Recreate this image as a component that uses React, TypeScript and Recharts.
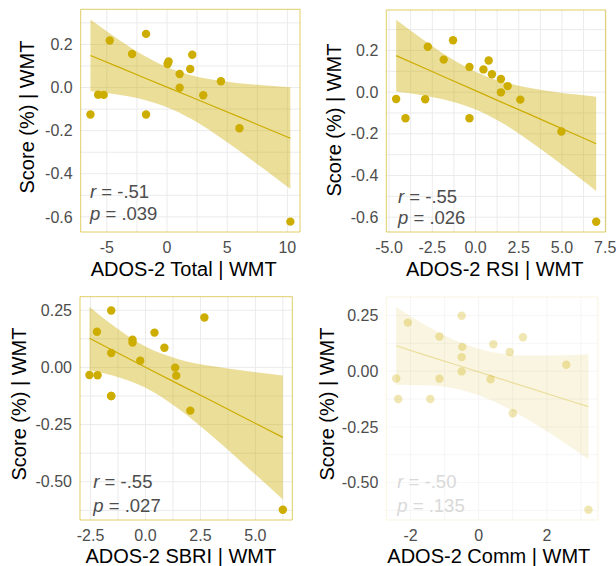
import React from "react";
import {
  ComposedChart,
  Area,
  Line,
  Scatter,
  XAxis,
  YAxis,
  CartesianGrid,
  ReferenceArea,
} from "recharts";

const GOLD = "#CDAD00";
const FONT = '"Liberation Sans", Arial, sans-serif';

// residualised score (| WMT), one value per participant
const score = [
  0.249, 0.218, 0.156, 0.152, 0.121, 0.109, 0.086, 0.063, 0.029, -0.001,
  -0.033, -0.034, -0.036, -0.125, -0.125, -0.189, -0.622,
];

// residualised ADOS-2 scores, same participant order as `score`
const totalX = [
  -1.74, -4.76, -2.9, 2.1, 0.13, 0.05, 1.93, 1.05, 4.48, 1.05, -5.72, -5.26,
  3.01, -6.36, -1.74, 6.02, 10.25,
];
const rsiX = [
  -1.3, -2.76, -1.84, 0.76, -0.35, 0.46, 0.95, 1.47, 1.86, 1.47, -4.59, -2.91,
  2.59, -4.05, -0.35, 4.97, 6.98,
];
const sbriX = [
  -1.56, 2.68, -2.21, 0.41, -0.59, -0.59, 0.86, -1.56, -0.24, 1.35, -2.55,
  -2.18, 1.4, -1.56, -1.56, 2.04, 6.25,
];
const commX = [
  -0.5, -2.08, -1.15, 1.3, 0.43, -0.48, 0.91, -0.5, 2.57, -0.5, -2.42, -1.15,
  0.35, -2.36, -1.42, 1.0, 3.22,
];

const totalFitX = [-6.36, -4, -2, 0, 2, 4, 6, 8, 10.25];
const totalFit = [0.149, 0.095, 0.048, 0.002, -0.044, -0.09, -0.136, -0.183, -0.235];
const totalLo = [-0.017, -0.033, -0.055, -0.091, -0.145, -0.215, -0.293, -0.376, -0.471];
const totalHi = [0.316, 0.222, 0.151, 0.095, 0.057, 0.035, 0.02, 0.011, 0.002];

const rsiFitX = [-4.59, -3, -1.5, 0, 1.5, 3, 4.5, 6, 6.98];
const rsiFit = [0.175, 0.117, 0.062, 0.007, -0.048, -0.102, -0.157, -0.212, -0.248];
const rsiLo = [0.003, -0.016, -0.042, -0.083, -0.146, -0.227, -0.317, -0.411, -0.474];
const rsiHi = [0.347, 0.25, 0.166, 0.098, 0.051, 0.022, 0.002, -0.013, -0.022];

const sbriFitX = [-2.55, -1.5, 0, 1.5, 3, 4.5, 6.25];
const sbriFit = [0.127, 0.075, 0.001, -0.073, -0.146, -0.22, -0.306];
const sbriLo = [-0.012, -0.035, -0.089, -0.181, -0.298, -0.425, -0.577];
const sbriHi = [0.265, 0.185, 0.091, 0.036, 0.006, -0.015, -0.035];

const commFitX = [-2.42, -1.5, -0.5, 0.5, 1.5, 2.5, 3.22];
const commFit = [0.114, 0.069, 0.021, -0.028, -0.076, -0.125, -0.159];
const commLo = [-0.061, -0.063, -0.084, -0.139, -0.223, -0.32, -0.395];
const commHi = [0.288, 0.202, 0.126, 0.083, 0.07, 0.071, 0.076];

// axis ticks
const totalTicks = [-5, 0, 5, 10];
const rsiTicks = [-5, -2.5, 0, 2.5, 5, 7.5];
const sbriTicks = [-2.5, 0, 2.5, 5];
const commTicks = [-2, 0, 2];
const scoreTicksTop = [0.2, 0, -0.2, -0.4, -0.6];
const scoreTicksBottom = [0.25, 0, -0.25, -0.5];

// grid lines (major + minor)
const totalGrid = [-5, -2.5, 0, 2.5, 5, 7.5, 10];
const rsiGrid = [-5, -3.75, -2.5, -1.25, 0, 1.25, 2.5, 3.75, 5, 6.25, 7.5];
const sbriGrid = [-2.5, -1.25, 0, 1.25, 2.5, 3.75, 5, 6.25];
const commGrid = [-2, -1, 0, 1, 2, 3];
const scoreGridTop = [0.3, 0.2, 0.1, 0, -0.1, -0.2, -0.3, -0.4, -0.5, -0.6];
const scoreGridBottom = [0.25, 0.125, 0, -0.125, -0.25, -0.375, -0.5, -0.625];

// labels
const xTitles = ["ADOS-2 Total | WMT", "ADOS-2 RSI | WMT", "ADOS-2 SBRI | WMT", "ADOS-2 Comm | WMT"];
const rValues = ["-.51", "-.55", "-.55", "-.50"];
const pValues = [".039", ".026", ".027", ".135"];

const panels = [
  {
    xs: totalX, fitX: totalFitX, fit: totalFit, lo: totalLo, hi: totalHi,
    xDomain: [-7.17, 11.05], yDomain: [-0.67, 0.363],
    xTicks: totalTicks, yTicks: scoreTicksTop, xGrid: totalGrid, yGrid: scoreGridTop,
    xDigits: 0, yDigits: 1, faded: false,
    left: 0, top: 0, width: 308, height: 290, yWidth: 80.7,
    margin: { top: 9.3, right: 8, bottom: 28, left: 0 },
    xt: [183.7, 276], yt: [34.2, 117], rp: [90, 198.3, 220],
  },
  {
    xs: rsiX, fitX: rsiFitX, fit: rsiFit, lo: rsiLo, hi: rsiHi,
    xDomain: [-5.16, 7.53], yDomain: [-0.671, 0.394],
    xTicks: rsiTicks, yTicks: scoreTicksTop, xGrid: rsiGrid, yGrid: scoreGridTop,
    xDigits: 1, yDigits: 1, faded: false,
    left: 308, top: 0, width: 308, height: 290, yWidth: 78.3,
    margin: { top: 10, right: 10.3, bottom: 28, left: 0 },
    xt: [494.7, 276], yt: [340.5, 120], rp: [398, 203, 224],
  },
  {
    xs: sbriX, fitX: sbriFitX, fit: sbriFit, lo: sbriLo, hi: sbriHi,
    xDomain: [-2.98, 6.68], yDomain: [-0.667, 0.309],
    xTicks: sbriTicks, yTicks: scoreTicksBottom, xGrid: sbriGrid, yGrid: scoreGridBottom,
    xDigits: 1, yDigits: 2, faded: false,
    left: 0, top: 290, width: 308, height: 276, yWidth: 80,
    margin: { top: 6.7, right: 15.7, bottom: 16, left: 0 },
    xt: [180.8, 562.7], yt: [25.8, 404], rp: [93.3, 488.3, 511.7],
  },
  {
    xs: commX, fitX: commFitX, fit: commFit, lo: commLo, hi: commHi,
    xDomain: [-2.71, 3.5], yDomain: [-0.668, 0.333],
    xTicks: commTicks, yTicks: scoreTicksBottom, xGrid: commGrid, yGrid: scoreGridBottom,
    xDigits: 0, yDigits: 2, faded: true,
    left: 308, top: 290, width: 308, height: 276, yWidth: 78.3,
    margin: { top: 7, right: 18, bottom: 16, left: 0 },
    xt: [488.8, 562.7], yt: [333.8, 404], rp: [397.3, 488.3, 511.7],
  },
];

const tickStyle = { fill: "#4D4D4D", fontSize: 16, fontFamily: FONT };

function Panel({ p }: { p: any }) {
  const pts = p.xs.map((x: number, i: number) => ({ x, y: score[i] }));
  const rows = p.fitX.map((x: number, i: number) => ({
    x,
    band: [p.lo[i], p.hi[i]],
    fit: p.fit[i],
  }));
  const a = p.faded ? 0.3 : 1;

  return (
    <div style={{ position: "absolute", left: p.left, top: p.top }}>
      <ComposedChart width={p.width} height={p.height} data={rows} margin={p.margin}>
        <CartesianGrid
          stroke="#EBEBEB"
          strokeOpacity={p.faded ? 0.45 : 1}
          verticalValues={p.xGrid}
          horizontalValues={p.yGrid}
        />
        <XAxis
          type="number"
          dataKey="x"
          domain={p.xDomain}
          allowDataOverflow
          ticks={p.xTicks}
          interval={0}
          tickFormatter={(v: number) => v.toFixed(p.xDigits)}
          axisLine={false}
          tickLine={false}
          tickMargin={3.7}
          height={30}
          tick={tickStyle}
        />
        <YAxis
          type="number"
          dataKey="y"
          domain={p.yDomain}
          allowDataOverflow
          ticks={p.yTicks}
          interval={0}
          tickFormatter={(v: number) => v.toFixed(p.yDigits)}
          axisLine={false}
          tickLine={false}
          width={p.yWidth}
          tick={tickStyle}
        />
        <Area
          dataKey="band"
          type="monotone"
          stroke="none"
          fill={GOLD}
          fillOpacity={0.4 * a}
          activeDot={false}
          isAnimationActive={false}
        />
        <Line
          dataKey="fit"
          type="linear"
          stroke={GOLD}
          strokeOpacity={a}
          strokeWidth={1.2}
          dot={false}
          activeDot={false}
          isAnimationActive={false}
        />
        <Scatter
          data={pts}
          fill={GOLD}
          isAnimationActive={false}
          shape={(s: any) => (
            <circle cx={s.cx} cy={s.cy} r={4.2} fill={GOLD} fillOpacity={a} />
          )}
        />
        {/* panel border */}
        <ReferenceArea
          x1={p.xDomain[0]}
          x2={p.xDomain[1]}
          y1={p.yDomain[0]}
          y2={p.yDomain[1]}
          fill="none"
          fillOpacity={0}
          stroke={GOLD}
          strokeOpacity={p.faded ? 0.12 : 0.6}
          strokeWidth={1}
        />
      </ComposedChart>
    </div>
  );
}

export default function App() {
  return (
    <div
      style={{
        position: "absolute",
        left: 0,
        top: 0,
        width: 616,
        height: 566,
        background: "#fff",
        overflow: "hidden",
        fontFamily: FONT,
      }}
    >
      {panels.map((p, i) => (
        <Panel key={i} p={p} />
      ))}

      {/* axis titles and r / p annotations */}
      <svg
        width={616}
        height={566}
        style={{ position: "absolute", left: 0, top: 0, pointerEvents: "none" }}
        fontFamily={FONT}
      >
        {panels.map((p, i) => (
          <g key={i}>
            <text x={p.xt[0]} y={p.xt[1]} textAnchor="middle" fontSize={20} fill="#000">
              {xTitles[i]}
            </text>
            <text
              transform={`translate(${p.yt[0]},${p.yt[1]}) rotate(-90)`}
              textAnchor="middle"
              fontSize={20}
              fill="#000"
            >
              Score (%) | WMT
            </text>
            <text x={p.rp[0]} y={p.rp[1]} fontSize={18.5} fill={p.faded ? "#D9D9D9" : "#4D4D4D"}>
              <tspan fontStyle="italic">r</tspan> = {rValues[i]}
            </text>
            <text x={p.rp[0]} y={p.rp[2]} fontSize={18.5} fill={p.faded ? "#D9D9D9" : "#4D4D4D"}>
              <tspan fontStyle="italic">p</tspan> = {pValues[i]}
            </text>
          </g>
        ))}
      </svg>
    </div>
  );
}
